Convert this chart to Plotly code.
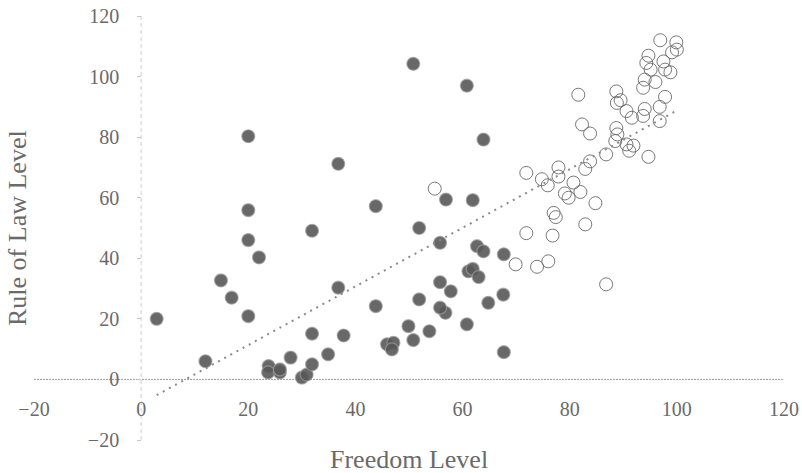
import plotly.graph_objects as go

# Filled points (lower-freedom group)
filled_x = [2.9, 12.0, 14.9, 16.9, 20.0, 20.0, 20.0, 20.0, 22.0, 23.8, 23.7, 25.9, 25.9,
            27.9, 30.0, 30.9, 31.9, 31.9, 31.9, 34.9, 36.8, 36.8, 37.8, 43.8, 43.8,
            45.9, 47.1, 46.8, 49.9, 50.8, 50.8, 51.9, 51.9, 53.8, 55.8, 55.8, 56.8,
            55.8, 56.9, 57.8, 60.8, 60.8, 61.9, 61.1, 61.9, 63.0, 62.7, 63.9, 63.9,
            64.8, 67.7, 67.6, 67.7]
filled_y = [20.0, 6.0, 32.7, 27.0, 80.3, 55.9, 46.0, 20.9, 40.3, 4.4, 2.3, 2.3, 3.3,
            7.2, 0.6, 1.6, 49.1, 15.1, 5.0, 8.3, 71.2, 30.3, 14.5, 57.2, 24.2,
            11.6, 12.1, 9.9, 17.6, 104.2, 13.0, 50.0, 26.4, 15.9, 45.1, 32.1, 22.0,
            23.7, 59.4, 29.1, 97.0, 18.2, 59.2, 35.7, 36.5, 33.8, 44.0, 42.3, 79.2,
            25.3, 41.3, 28.0, 9.0]

# Open circles (higher-freedom group)
open_x = [54.8, 71.9, 71.9, 69.9, 73.9, 76.0, 74.8, 75.9, 76.8, 77.0, 77.4, 77.9, 77.9,
          79.1, 79.8, 80.7, 82.0, 82.9, 84.8, 86.8, 82.9, 83.8, 81.6, 82.3, 83.8,
          86.8, 88.7, 88.9, 88.5, 90.6, 91.9, 91.1, 94.7, 88.7, 89.5, 88.8, 90.6,
          91.6, 93.7, 94.0, 96.8, 97.8, 96.8, 93.7, 94.0, 96.0, 95.1, 97.8, 98.8,
          94.3, 97.5, 94.7, 99.1, 100.0, 99.9, 96.9]
open_y = [63.0, 68.2, 48.3, 38.0, 37.2, 39.0, 66.1, 64.1, 47.5, 55.0, 53.6, 70.0, 67.0,
          61.4, 60.0, 65.0, 61.9, 51.2, 58.2, 31.4, 69.5, 72.0, 94.0, 84.2, 81.2,
          74.3, 83.0, 80.9, 78.7, 77.6, 77.2, 75.5, 73.5, 95.1, 92.2, 91.3, 88.6,
          86.4, 87.0, 89.3, 90.0, 93.3, 85.3, 96.3, 99.0, 98.2, 102.3, 102.3, 101.4,
          104.5, 105.0, 106.9, 108.0, 108.9, 111.3, 112.0]

# Linear trendline endpoints
trend_x = [2.9, 99.8]
trend_y = [-5.2, 88.6]

x_ticks = [-20, 0, 20, 40, 60, 80, 100, 120]
y_ticks = [-20, 0, 20, 40, 60, 80, 100, 120]
x_range = [-20, 120]
y_range = [-20, 120]

FONT = "Liberation Serif"
TXT = "#6a6a6a"

ML, MR, MT, MB = 34, 18, 16, 33
W, H = 802, 473
PW, PH = W - ML - MR, H - MT - MB

fig = go.Figure()
fig.add_trace(go.Scatter(
    x=filled_x, y=filled_y, mode="markers",
    marker=dict(size=13, color="rgba(88,88,88,0.9)",
                line=dict(color="rgba(160,160,160,0.7)", width=1.2)),
    showlegend=False, hoverinfo="x+y"))
fig.add_trace(go.Scatter(
    x=open_x, y=open_y, mode="markers",
    marker=dict(size=13, symbol="circle-open", color="rgba(105,105,105,0.9)",
                line=dict(width=1)),
    showlegend=False, hoverinfo="x+y"))
fig.add_trace(go.Scatter(
    x=trend_x, y=trend_y, mode="lines",
    line=dict(color="#8a8a8a", width=2, dash="2px,5px"),
    showlegend=False, hoverinfo="skip"))

zero_frac_x = (0 - x_range[0]) / (x_range[1] - x_range[0])
zero_frac_y = (0 - y_range[0]) / (y_range[1] - y_range[0])

fig.update_layout(
    width=W, height=H,
    margin=dict(l=ML, r=MR, t=MT, b=MB, autoexpand=False),
    paper_bgcolor="white", plot_bgcolor="white",
    font=dict(family=FONT, color=TXT, size=20),
    xaxis=dict(range=x_range, tickvals=x_ticks, showgrid=False, zeroline=False,
               showline=False, ticks="", anchor="free", position=zero_frac_y,
               automargin=False, ticklabeloverflow="allow",
               ticklabelstandoff=16, tickfont=dict(family=FONT, size=20, color=TXT)),
    yaxis=dict(range=y_range, tickvals=y_ticks, showgrid=False, zeroline=False,
               showline=False, ticks="outside", ticklen=4, tickcolor="#c8c8c8",
               anchor="free", position=zero_frac_x, ticklabelstandoff=14,
               automargin=False, ticklabeloverflow="allow",
               tickfont=dict(family=FONT, size=20, color=TXT)),
    shapes=[
        dict(type="line", xref="x", yref="y", x0=0, x1=0, y0=y_range[0], y1=y_range[1],
             line=dict(color="#cfcfcf", width=1, dash="4px,3px"), layer="below"),
        dict(type="line", xref="x", yref="y", x0=x_range[0], x1=119.8, y0=0, y1=0,
             line=dict(color="#9a9a9a", width=1, dash="2px,1px"), layer="below"),
    ],
    annotations=[
        dict(text="Freedom Level", xref="paper", yref="paper", x=(409 - ML) / PW,
             y=-(459 - (H - MB)) / PH, xanchor="center", yanchor="middle", showarrow=False,
             font=dict(family=FONT, size=26, color=TXT)),
        dict(text="Rule of Law Level", xref="paper", yref="paper", x=-(ML - 17) / PW,
             y=((H - MB) - 228) / PH, xanchor="center", yanchor="middle", showarrow=False,
             textangle=-90, font=dict(family=FONT, size=26, color=TXT)),
    ],
)

fig.write_html("out.html")
